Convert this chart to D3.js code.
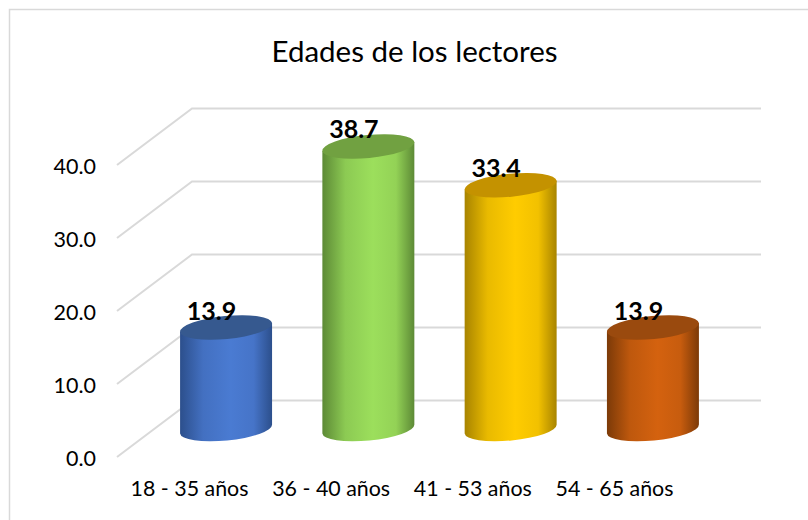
<!DOCTYPE html>
<html><head><meta charset="utf-8">
<script src="https://cdnjs.cloudflare.com/ajax/libs/d3/7.8.5/d3.min.js"></script>
<style>html,body{margin:0;padding:0;background:#fff}svg{display:block}text{font-family:Lato,"Open Sans",sans-serif;fill:#000}</style>
</head><body><svg id="c" width="808" height="520"></svg>
<script>
const categories = ["18 - 35 años","36 - 40 años","41 - 53 años","54 - 65 años"];
const values = [13.9,38.7,33.4,13.9];
const labels = ["13.9","38.7","33.4","13.9"];
const ticks = [0,10,20,30,40];
const centers = ["#4a7bd2","#9cdf5c","#ffcc00","#d4620f"];
const edges = ["#2c4f8c","#5d8a36","#a88400","#7c3a08"];
const tops = ["#36598f","#71a141","#c49200","#9a4a0e"];

const svg = d3.select("#c");
const W=808,H=520;
svg.append("path").attr("d",`M9.5,${H}V9.5H${W}`).attr("fill","none").attr("stroke","#d9d9d9").attr("stroke-width",1.5);
svg.append("text").attr("x",414.5).attr("y",62).attr("text-anchor","middle").attr("font-size",29.5).text("Edades de los lectores");

const yFront = d3.scaleLinear().domain([0,40]).range([457,165]);
const dx=75, dy=-56.5;
const yBack = v=>yFront(v)+dy;
const x = d3.scaleBand().domain(categories).range([155,724]).paddingInner(0.353).paddingOuter(0.176);
const xLabel = d3.scalePoint().domain(categories).range([189.5,614.5]);
const xEnd=761, xFront=117;

const grid = svg.append("g").attr("fill","none").attr("stroke","#d9d9d9").attr("stroke-width",2);
ticks.forEach(t=>{
  grid.append("path").attr("d",`M${xFront},${yFront(t)}L${xFront+dx},${yBack(t)}H${xEnd}`);
});

const ax = d3.axisLeft(yFront).tickValues(ticks).tickFormat(d3.format(".1f")).tickSize(0).tickPadding(0);
const gy = svg.append("g").attr("transform","translate(96,0)").call(ax);
gy.select(".domain").remove();
gy.selectAll("text").attr("font-size",21.5).attr("font-family","Lato").attr("dy","0.38em");

const defs = svg.append("defs");
const base = 429, rx=46.2, ry=11.5, tilt=-5.5;
const tdx=rx*Math.cos(tilt*Math.PI/180), tdy=rx*Math.sin(tilt*Math.PI/180);
categories.forEach((c,i)=>{
  const g=defs.append("linearGradient").attr("id","g"+i);
  [[0,edges[i]],[0.25,d3.interpolateRgb(edges[i],centers[i])(0.75)],[0.55,centers[i]],[0.8,d3.interpolateRgb(edges[i],centers[i])(0.85)],[1,edges[i]]]
   .forEach(s=>g.append("stop").attr("offset",s[0]).attr("stop-color",s[1]));
  const cx=x(c)+x.bandwidth()/2;
  const h=yFront(0)-yFront(values[i]);
  const ty=base-h;
  svg.append("path").attr("fill",`url(#g${i})`)
    .attr("d",`M${cx-tdx},${ty-tdy}L${cx-tdx},${base-tdy}A${rx},${ry} ${tilt} 0 0 ${cx+tdx},${base+tdy}L${cx+tdx},${ty+tdy}Z`);
  svg.append("ellipse").attr("cx",cx).attr("cy",ty).attr("rx",rx).attr("ry",ry)
    .attr("transform",`rotate(${tilt} ${cx} ${ty})`).attr("fill",tops[i]);
  svg.append("text").attr("x",cx-14.5).attr("y",ty-8).attr("text-anchor","middle").attr("font-size",25).attr("font-weight",700).text(labels[i]);
  svg.append("text").attr("x",xLabel(c)).attr("y",496).attr("text-anchor","middle").attr("font-size",21.4).text(c);
});
</script></body></html>
